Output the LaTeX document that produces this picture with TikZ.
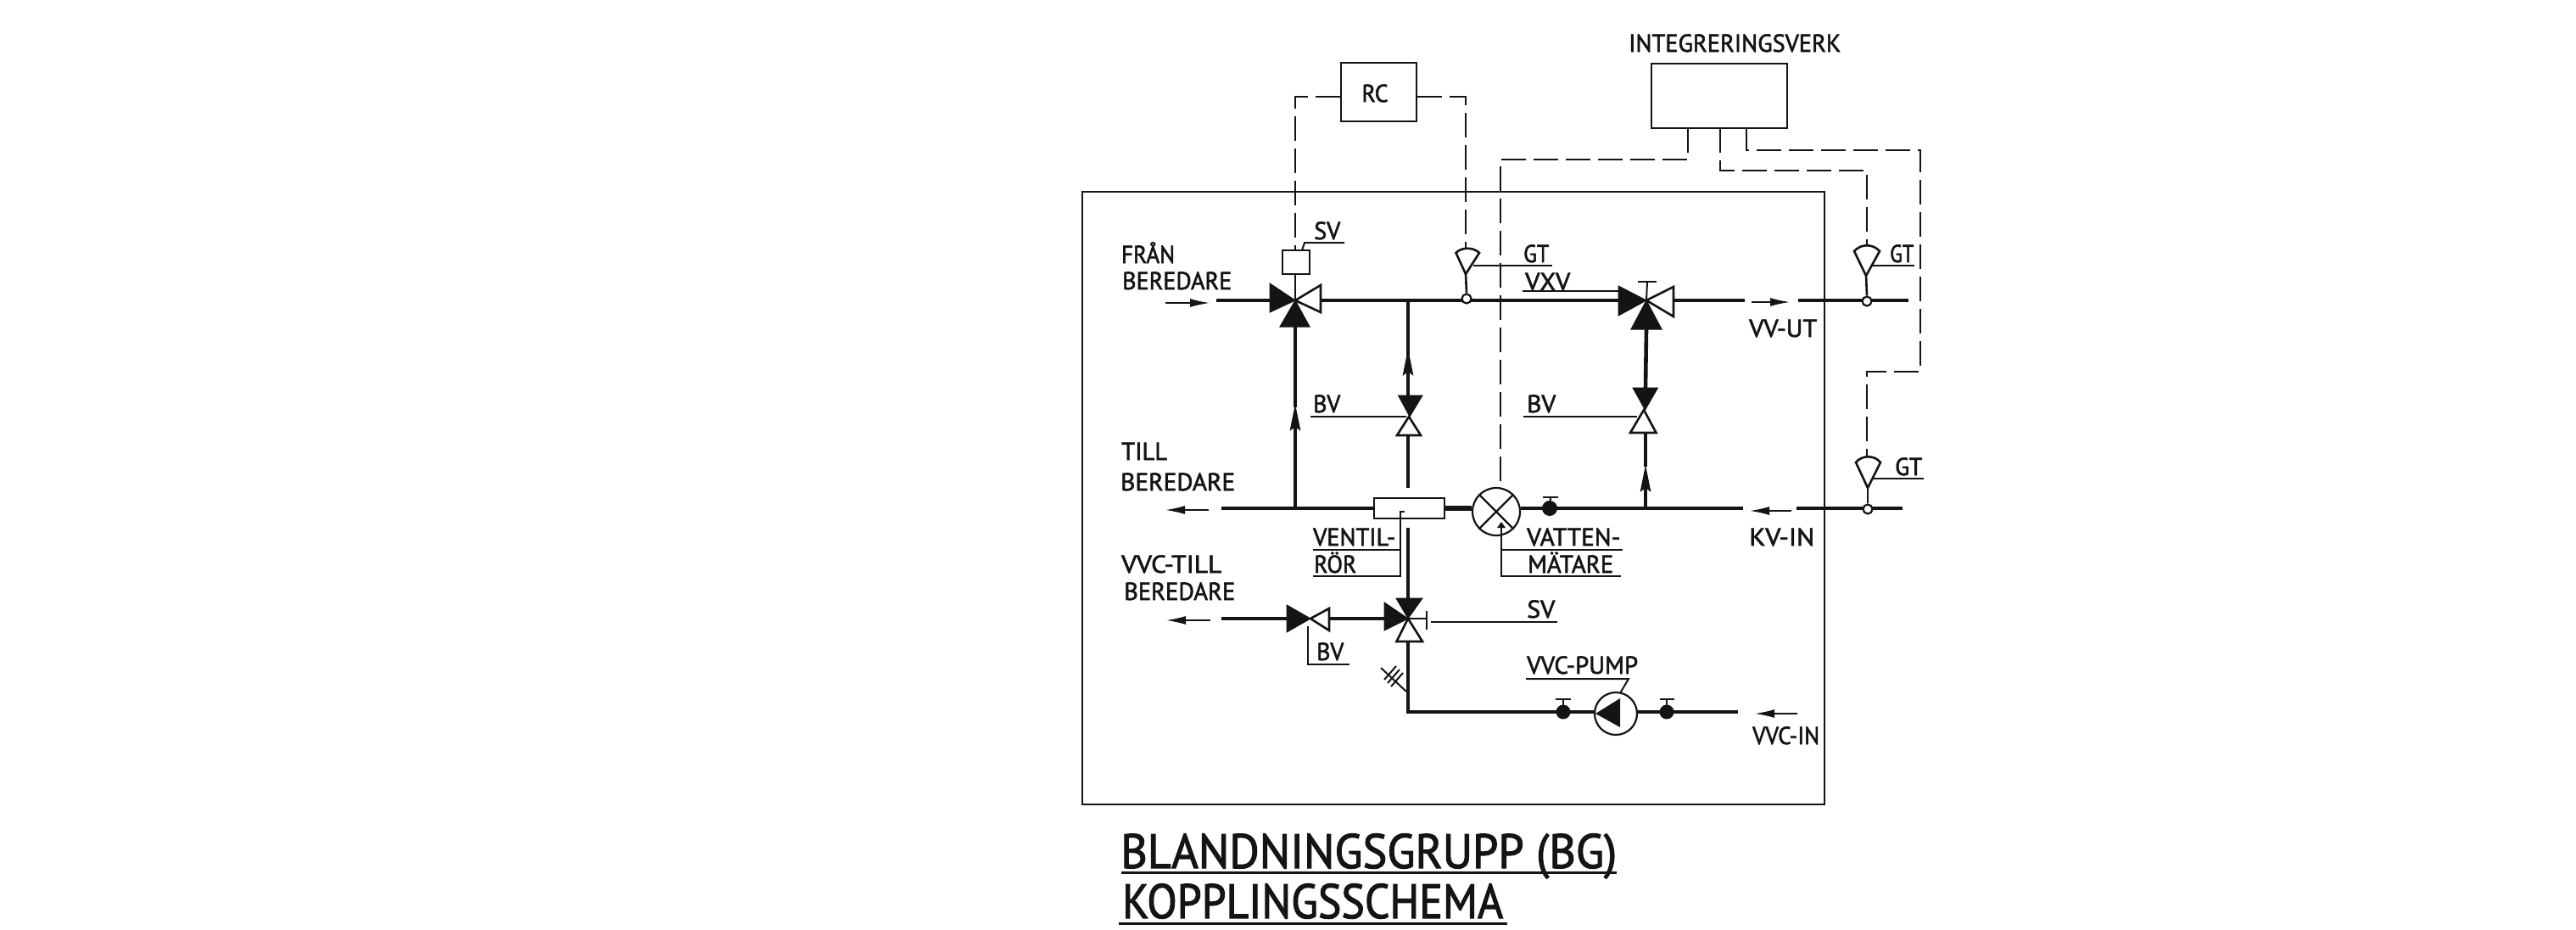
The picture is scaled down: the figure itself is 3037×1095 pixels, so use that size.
\documentclass[tikz,border=0pt]{standalone}
\usepackage{fontspec}
\usepackage{graphicx}
\setmainfont{PT Sans}[FakeBold=2]
\usetikzlibrary{arrows.meta}
\newcommand{\lbl}[6]{% name, x1, x2, baseline, fontsize, text
  \node[txt] (#1) at (#2,#4) {\resizebox{\dimexpr #3pt-#2pt\relax}{\height}{\fontsize{#5}{#5}\selectfont #6}};}
\tikzset{
  x=1pt,y=-1pt,
  txt/.style={inner sep=0pt,anchor=base west,text=ink},
  pipe/.style={line width=4.6pt,draw=ink},
  pipethick/.style={line width=6.5pt,draw=ink},
  thinln/.style={line width=2pt,draw=ink},
  frameln/.style={line width=2.6pt,draw=ink},
  sig/.style={line width=2.2pt,draw=ink,dash pattern=on 29pt off 9pt},
  flow/.style={line width=1.6pt,draw=ink,-{Latex[length=23pt,width=10pt]}},
  riser/.style={pipe,-{Stealth[length=32pt,width=12pt,inset=4pt]}},
  vfill/.style={fill=ink,draw=ink,line width=1pt,line join=miter},
  vopen/.style={fill=white,draw=ink,line width=2.6pt,line join=miter},
  box/.style={draw=ink,line width=2.6pt,fill=white,inner sep=0pt},
  dot/.style={circle,fill=ink,inner sep=0pt},
  ring/.style={circle,draw=ink,fill=white,line width=2.2pt,inner sep=0pt}
}
\definecolor{ink}{HTML}{141414}
\begin{document}
\begin{tikzpicture}
\useasboundingbox (0,0) rectangle (3037,1095);
% frame
\draw[frameln] (1276,226) rectangle (2151,948);
% key points
\coordinate (V1) at (1527,354);
\coordinate (V2) at (1941,354);
\coordinate (V3) at (1660,729);
\coordinate (JA) at (1660,354);
\coordinate (JB) at (1527,599);
\coordinate (JC) at (1940,599);
\coordinate (Corner) at (1660,839);
\coordinate (inA) at (1434,354);
\coordinate (outB) at (1440,599);
\coordinate (outC) at (1440,729);
% boxes
\node[box,minimum width=89pt,minimum height=69pt] (RC) at (1625.5,108.5) {};
\node[txt,anchor=center] (tRC) at (1621,110) {\resizebox{31pt}{\height}{\fontsize{29}{29}\selectfont RC}};
\node[box,minimum width=160pt,minimum height=76pt] (IV) at (2027,113) {};
\node[box,minimum width=32pt,minimum height=28pt] (SVb) at (1528,309) {};
\node[box,minimum width=83pt,minimum height=24pt] (tube) at (1661.5,599) {};
\node[ring,minimum size=56pt] (meter) at (1764,603) {};
\node[ring,minimum size=50pt] (pump) at (1905,841) {};
% signal lines
\draw[sig] (RC.west |- 0,114) -- (1527,114) -- (SVb.north -| 1527,0);
\draw[sig] (RC.east |- 0,114) -- (1728,114) -- (1728,293) coordinate (s1top);
\draw[sig] (1990,151) -- (1990,188) -- (1769,188) -- (1769,576) coordinate (mtop);
\draw[sig] (2028,151) -- (2028,201) -- (2201,201) -- (2201,290) coordinate (s2top);
\draw[sig] (2059,151) -- (2059,177) -- (2264,177) -- (2264,438) -- (2201,438) -- (2201,538) coordinate (s3top);
% pipes
\draw[pipe] (inA) -- (1497,354);
\draw[pipe] (1557,354) -- (JA) -- (1908,354);
\draw[pipe] (1973,354) -- (2057,354);
\coordinate (wOut) at (2120,354); \coordinate (wOutEnd) at (2250,354);
\draw[pipe] (wOut) -- (wOutEnd);
\draw[pipe] (outB) -- (tube.west);
\draw[pipethick] (tube.east) -- (meter.west |- JC);
\coordinate (KVa) at (2055,599); \coordinate (KVb) at (2118,599); \coordinate (KVc) at (2243,599);
\draw[pipe] (meter.east |- JC) -- (JC) -- (KVa);
\draw[pipe] (KVb) -- (KVc);
\draw[riser] (JB) -- (1527,475);
\draw[pipe] (1527,480) -- (1527,385);
\draw[riser] (1660,466) -- (1660,410);
\draw[pipe] (1660,420) -- (JA);
\draw[pipe] (1660,513) -- (1660,575);
\draw[pipe] (1660,622) -- (1660,705);
\draw[pipe] (1941,388) -- (1940,457);
\draw[riser] (JC) -- (1940,547);
\draw[pipe] (1940,550) -- (1940,510);
\draw[pipe] (outC) -- (1517,729);
\draw[pipe] (1567,729) -- (1632,729);
\draw[pipe,line join=miter] (1660,756) -- (Corner) -- (pump.west |- Corner);
\coordinate (VCa) at (2049,839);
\draw[pipe] (pump.east |- Corner) -- (VCa);
% flow arrows
\coordinate (fa1) at (1374,357); \coordinate (fa2) at (1426,357);
\draw[flow] (fa1) -- (fa2);
\coordinate (fb1) at (1425,601); \coordinate (fb2) at (1374,601);
\draw[flow] (fb1) -- (fb2);
\coordinate (fc1) at (1427,731); \coordinate (fc2) at (1375,731);
\draw[flow] (fc1) -- (fc2);
\coordinate (fd1) at (2065,356); \coordinate (fd2) at (2110,356);
\draw[flow] (fd1) -- (fd2);
\coordinate (fe1) at (2112,602); \coordinate (fe2) at (2063,602);
\draw[flow] (fe1) -- (fe2);
\coordinate (ff1) at (2119,841); \coordinate (ff2) at (2069,841);
\draw[flow] (ff1) -- (ff2);
% valve V1
\draw[thinln] (SVb.south -| V1) -- (V1);
\draw[vfill] (V1) -- (1497,334) -- (1497,368) -- cycle;
\draw[vfill] (V1) -- (1509,385) -- (1544,385) -- cycle;
\draw[vopen] (V1) -- (1557,336) -- (1557,368) -- cycle;
% valve V2
\draw[vfill] (V2) -- (1908,337) -- (1908,372) -- cycle;
\draw[vfill] (V2) -- (1923,388) -- (1959,388) -- cycle;
\draw[vopen] (V2) -- (1973,338) -- (1973,373) -- cycle;
\draw[thinln] (V2) -- (1942,332);
\draw[thinln] (1931,332) -- (1953,332);
% BV middle
\draw[vfill] (1662,491) -- (1648.5,466) -- (1677,466) -- cycle;
\draw[vopen] (1661,491) -- (1647,513) -- (1675,513) -- cycle;
% BV right
\draw[vfill] (1939.5,483) -- (1925,457) -- (1954.5,457) -- cycle;
\draw[vopen] (1938,483) -- (1922,510) -- (1952.5,510) -- cycle;
% BV lower
\draw[vfill] (1545,729) -- (1517,713) -- (1517,745) -- cycle;
\draw[vopen] (1545,729) -- (1567,717) -- (1567,743) -- cycle;
% valve V3
\draw[thinln] (V3) -- (1682,729);
\draw[line width=2pt,draw=ink] (1682,720) -- (1682,742);
\draw[vfill] (V3) -- (1632,710) -- (1632,743) -- cycle;
\draw[vfill] (V3) -- (1646,705) -- (1677,705) -- cycle;
\draw[vopen] (V3) -- (1646.5,756) -- (1677,756) -- cycle;
% sensors
\draw[vopen] (1728,323) -- (1716.5,298) .. controls (1723,291) and (1737,291) .. (1744,298) -- cycle;
\node[ring,minimum size=11pt] (c1) at (1729,352) {};
\draw[thinln,line width=2.6pt] (1728,323) -- (c1.north);
\draw[vopen] (2200,325) -- (2186,296) .. controls (2194,287) and (2208,287) .. (2216,296) -- cycle;
\node[ring,minimum size=11pt] (c2) at (2201,355) {};
\draw[thinln,line width=2.6pt] (2200,325) -- (c2.north);
\draw[vopen] (2202,575) -- (2188,545) .. controls (2195,536) and (2210,536) .. (2217,545) -- cycle;
\node[ring,minimum size=11pt] (c3) at (2202,600) {};
\draw[thinln,line width=2.6pt] (2202,575) -- (c3.north);
% crossing lines inside meter
\draw[line width=2.2pt,draw=ink] (meter.north west) -- (meter.south east);
\draw[line width=2.2pt,draw=ink] (meter.north east) -- (meter.south west);
% pump triangle
\fill[ink] (1881,841) -- (1910,823) -- (1910,857) -- cycle;
% hand valves
\node[dot,minimum size=18pt] (hv1) at (1827,599) {};
\draw[thinln] (hv1.center) -- (1828,586); \draw[thinln] (1819,586) -- (1837,586);
\node[dot,minimum size=17pt] (hv2) at (1843,839) {};
\draw[thinln] (hv2.center) -- (1843,824); \draw[thinln] (1834,824) -- (1852,824);
\node[dot,minimum size=17pt] (hv3) at (1965,839) {};
\draw[thinln] (hv3.center) -- (1965,824); \draw[thinln] (1957,824) -- (1974,824);
% drain hatch
\draw[thinln] (1658,815) -- (1628,787);
\draw[thinln] (1632,801) -- (1646,785);
\draw[thinln] (1636,805) -- (1650,789);
\draw[thinln] (1640,809) -- (1654,793);
% leaders and underlines
\draw[thinln] (1535,295) -- (1538,286) -- (1585,286);
\draw[thinln] (1737,313) -- (1830,313);
\draw[thinln] (1795,343) -- (1908,343);
\draw[thinln] (2208,313) -- (2257,313);
\draw[thinln] (2207,564) -- (2268,564);
\draw[thinln] (1545,491) -- (1658,491);
\draw[thinln] (1796,491) -- (1930,491);
\draw[thinln] (1548,648) -- (1650,648);
\draw[thinln] (1548,679) -- (1651,679) -- (1651,603) -- (1656,603);
\draw[thinln] (1771,648) -- (1913,648);
\draw[thinln] (1911,679) -- (1770,679) -- (1770,620);
\fill[ink] (1770,615) -- (1765,622) -- (1775,622) -- cycle;
\draw[thinln] (1687,733) -- (1836,733);
\draw[thinln] (1542,738) -- (1542,783) -- (1591,783);
\draw[thinln] (1799,800) -- (1920,800) -- (1910,817);
% title underlines
\draw[line width=3pt,draw=ink] (1322,1028) -- (1906,1028);
\draw[line width=3pt,draw=ink] (1319,1088) -- (1777,1088);
% texts
\lbl{tIV}{1920}{2170}{61}{29}{INTEGRERINGSVERK}
\lbl{tSV1}{1549}{1580}{282}{29}{SV}
\lbl{tFran}{1322}{1385}{310}{29}{FRÅN}
\lbl{tBer1}{1323}{1452}{341}{29}{BEREDARE}
\lbl{tGT1}{1796}{1826}{309}{29}{GT}
\lbl{tVXV}{1798}{1851}{342}{29}{VXV}
\lbl{tGT2}{2228}{2256}{309}{29}{GT}
\lbl{tVVUT}{2062}{2142}{397}{29}{VV-UT}
\lbl{tBV1}{1548}{1580}{486}{29}{BV}
\lbl{tBV2}{1800}{1834}{486}{29}{BV}
\lbl{tTill}{1322}{1376}{542}{29}{TILL}
\lbl{tBer2}{1321}{1456}{578}{29}{BEREDARE}
\lbl{tGT3}{2234}{2266}{560}{29}{GT}
\lbl{tKV}{2062}{2139}{643}{29}{KV-IN}
\lbl{tVent}{1548}{1645}{643}{29}{VENTIL-}
\lbl{tRor}{1549}{1599}{675}{29}{RÖR}
\lbl{tVat}{1800}{1910}{643}{29}{VATTEN-}
\lbl{tMat}{1801}{1902}{675}{29}{MÄTARE}
\lbl{tVVC}{1322}{1440}{675}{29}{VVC-TILL}
\lbl{tBer3}{1325}{1456}{707}{29}{BEREDARE}
\lbl{tSV2}{1800}{1833}{728}{29}{SV}
\lbl{tBV3}{1552}{1584}{778}{29}{BV}
\lbl{tPump}{1800}{1931}{794}{29}{VVC-PUMP}
\lbl{tVVCin}{2066}{2145}{877}{29}{VVC-IN}
\lbl{tTitle}{1321}{1906}{1023}{57}{BLANDNINGSGRUPP (BG)}
\lbl{tSchema}{1323}{1772}{1082}{57}{KOPPLINGSSCHEMA}
\end{tikzpicture}
\end{document}
